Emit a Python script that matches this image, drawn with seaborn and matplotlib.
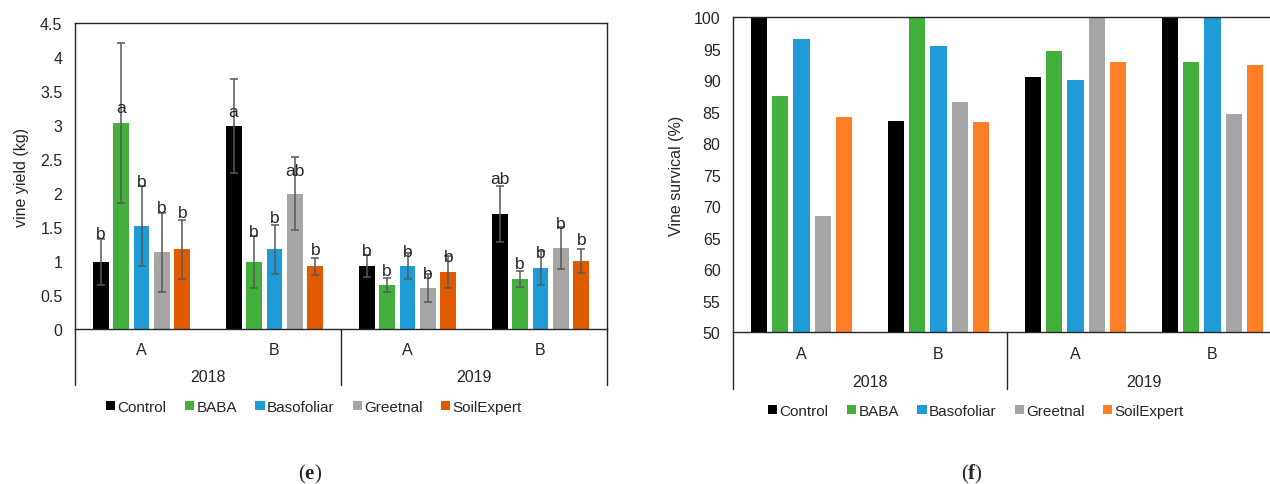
import pandas as pd
import matplotlib
matplotlib.use("Agg")
import matplotlib.pyplot as plt
import matplotlib.transforms as mtransforms
from matplotlib.patches import Patch
from matplotlib.ticker import FuncFormatter, MultipleLocator
import seaborn as sns

# ---- data ----
groups = ["2018 A", "2018 B", "2019 A", "2019 B"]
site_labels = ["A", "B", "A", "B"]
years = ["2018", "2019"]
treatments = ["Control", "BABA", "Basofoliar", "Greetnal", "SoilExpert"]

# (e) vine yield (kg), one list per treatment in group order
yield_control = [0.99, 2.98, 0.93, 1.69]
yield_baba = [3.03, 0.99, 0.65, 0.74]
yield_baso = [1.51, 1.17, 0.93, 0.90]
yield_greetnal = [1.13, 1.99, 0.60, 1.19]
yield_soil = [1.17, 0.92, 0.84, 1.00]

# error bar half-lengths
err_control = [0.34, 0.69, 0.16, 0.41]
err_baba = [1.17, 0.38, 0.10, 0.12]
err_baso = [0.59, 0.36, 0.19, 0.25]
err_greetnal = [0.58, 0.54, 0.21, 0.31]
err_soil = [0.43, 0.13, 0.23, 0.17]

# significance letters and the height they sit at
letters_control = ["b", "a", "b", "ab"]
letters_baba = ["a", "b", "b", "b"]
letters_baso = ["b", "b", "b", "b"]
letters_greetnal = ["b", "ab", "b", "b"]
letters_soil = ["b", "b", "b", "b"]

letter_y_control = [1.40, 3.20, 1.15, 2.22]
letter_y_baba = [3.26, 1.43, 0.86, 0.97]
letter_y_baso = [2.17, 1.64, 1.14, 1.13]
letter_y_greetnal = [1.79, 2.33, 0.82, 1.55]
letter_y_soil = [1.72, 1.17, 1.07, 1.32]

# (f) vine survival (%)
surv_control = [100, 83.5, 90.6, 100]
surv_baba = [87.5, 100, 94.7, 92.9]
surv_baso = [96.6, 95.4, 90.0, 100]
surv_greetnal = [68.5, 86.6, 100, 84.6]
surv_soil = [84.2, 83.4, 92.9, 92.4]

colors_e = ["#000000", "#43B03E", "#1F9CD8", "#A6A6A6", "#E05A00"]
colors_f = ["#000000", "#43B03E", "#1F9CD8", "#A6A6A6", "#FF7F27"]

yields = [yield_control, yield_baba, yield_baso, yield_greetnal, yield_soil]
errs = [err_control, err_baba, err_baso, err_greetnal, err_soil]
letters = [letters_control, letters_baba, letters_baso, letters_greetnal, letters_soil]
letter_y = [letter_y_control, letter_y_baba, letter_y_baso, letter_y_greetnal, letter_y_soil]
survs = [surv_control, surv_baba, surv_baso, surv_greetnal, surv_soil]


def long_form(series):
    rows = []
    for t, vals in zip(treatments, series):
        for g, v in zip(groups, vals):
            rows.append({"group": g, "treatment": t, "value": v})
    return pd.DataFrame(rows)


df_e = long_form(yields)
df_f = long_form(survs)

sns.set_style("white")
plt.rcParams["font.family"] = ["Liberation Sans", "DejaVu Sans"]
plt.rcParams["mathtext.fontset"] = "custom"
plt.rcParams["mathtext.bf"] = "Liberation Serif:bold"

fig = plt.figure(figsize=(12.7, 4.85), dpi=100)
ax1 = fig.add_axes([75 / 1270, 155 / 485, 532 / 1270, 306 / 485])
ax2 = fig.add_axes([733 / 1270, 151.7 / 485, 548 / 1270, 315 / 485])

frame_col = "#262626"
fs = 11.5


def style_axes(ax, below):
    ax.set_xlim(-0.5, len(groups) - 0.5)
    for s in ax.spines.values():
        s.set_visible(True)
        s.set_color(frame_col)
        s.set_linewidth(1.0)
    ax.set_xlabel("")
    ax.set_xticks(range(len(groups)))
    ax.set_xticklabels([])
    ax.tick_params(axis="both", length=0, labelsize=fs, colors="#262626")
    ax.tick_params(axis="y", pad=9)
    trans = mtransforms.blended_transform_factory(ax.transData, ax.transAxes)
    # category separators below the frame
    for x in [-0.5, 1.5, 3.5]:
        ax.plot([x, x], [0, -below], color=frame_col, lw=1.0,
                transform=trans, clip_on=False)
    for i, lab in enumerate(site_labels):
        ax.text(i, -0.068, lab, transform=trans, ha="center", va="center",
                fontsize=fs)
    for k, yr in enumerate(years):
        ax.text(2 * k + 0.5, -0.155, yr, transform=trans, ha="center",
                va="center", fontsize=fs)


# ---- (e) vine yield ----
sns.barplot(data=df_e, x="group", y="value", hue="treatment", order=groups,
            hue_order=treatments, palette=colors_e, saturation=1, width=0.77,
            gap=0.22, linewidth=0, errorbar=None, legend=False, ax=ax1)
bar_conts = list(ax1.containers)
for i, cont in enumerate(bar_conts):
    for j, bar in enumerate(cont):
        xc = bar.get_x() + bar.get_width() / 2
        ax1.errorbar(xc, bar.get_height(), yerr=errs[i][j], fmt="none",
                     ecolor="#595959", elinewidth=1.1, capsize=2.8,
                     capthick=1.1, zorder=3)
        ax1.text(xc, letter_y[i][j], letters[i][j], ha="center", va="center",
                 fontsize=12.5, zorder=4)
ax1.set_ylim(0, 4.5)
ax1.yaxis.set_major_locator(MultipleLocator(0.5))
ax1.yaxis.set_major_formatter(FuncFormatter(lambda v, p: f"{v:g}"))
ax1.set_ylabel("vine yield (kg)", fontsize=fs, labelpad=8)
style_axes(ax1, 56 / 306)

# ---- (f) vine survival ----
sns.barplot(data=df_f, x="group", y="value", hue="treatment", order=groups,
            hue_order=treatments, palette=colors_f, saturation=1, width=0.77,
            gap=0.24, linewidth=0, errorbar=None, legend=False, ax=ax2)
ax2.set_ylim(50, 100)
ax2.yaxis.set_major_locator(MultipleLocator(5))
ax2.set_ylabel("Vine survical (%)", fontsize=fs, labelpad=7)
style_axes(ax2, 57 / 315)

# ---- legends ----
for colors, xc, yc in [(colors_e, 314 / 1270, 1 - 408 / 485),
                       (colors_f, 976 / 1270, 1 - 412 / 485)]:
    handles = [Patch(facecolor=c, edgecolor="none", label=t)
               for c, t in zip(colors, treatments)]
    fig.legend(handles=handles, loc="center", bbox_to_anchor=(xc, yc),
               ncol=5, frameon=False, fontsize=11, handlelength=0.6,
               handleheight=0.6, handletextpad=0.15, columnspacing=1.2)

# panel captions
fig.text(310 / 1270, 1 - 474 / 485, r"($\mathbf{e}$)", ha="center",
         va="center", fontsize=15, family="Liberation Serif")
fig.text(972 / 1270, 1 - 474 / 485, r"($\mathbf{f}$)", ha="center",
         va="center", fontsize=15, family="Liberation Serif")

fig.savefig("out.png", dpi=100)
